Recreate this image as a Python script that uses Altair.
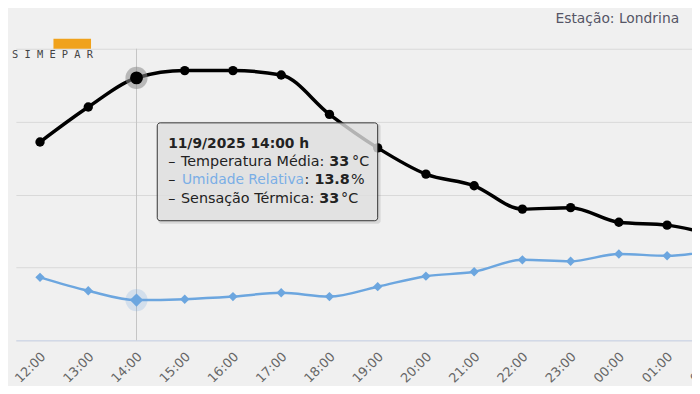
import altair as alt
import pandas as pd

# ---- data ----
horas = ["12:00", "13:00", "14:00", "15:00", "16:00", "17:00", "18:00", "19:00",
         "20:00", "21:00", "22:00", "23:00", "00:00", "01:00", "02:00"]
temperatura = [28.6, 31.0, 33.0, 33.5, 33.5, 33.2, 30.5, 28.2,
               26.4, 25.6, 24.0, 24.1, 23.1, 22.9, 22.2]
umidade = [21.6, 17.0, 13.8, 14.1, 15.0, 16.3, 15.0, 18.4,
           22.0, 23.5, 27.6, 27.1, 29.6, 29.0, 31.0]
sensacao_destaque = 33
indice_destaque = 2
data_destaque = "11/9/2025"
estacao = "Londrina"

temp_ticks = [15, 20, 25, 30, 35]

df = pd.DataFrame({"i": list(range(len(horas))), "hora": horas,
                   "temp": temperatura, "umid": umidade})
df_hl = df[df["i"] == indice_destaque]
one = pd.DataFrame({"k": [0]})

W, H = 684, 295
STEP = 48.8
FONT = "DejaVu Sans"
BLUE = "#6ca6df"

label_expr = "[" + ",".join(f"'{h}'" for h in horas) + "][datum.value]"

x_axis = alt.Axis(values=list(range(len(horas))), labelExpr=label_expr,
                  labelAngle=315, labelAlign="right", labelBaseline="middle",
                  labelPadding=14, labelOffset=3, labelFontSize=13, labelFont=FONT,
                  labelColor="#666666", ticks=False, domainColor="#ccd6eb",
                  domainWidth=1, grid=False, title=None, labelOverlap=False,
                  labelFlush=False, labelBound=False)
x_scale = alt.Scale(domain=[-0.5, len(horas) - 0.5],
                    range=[0, STEP * len(horas)], nice=False, zero=False)
X = alt.X("i:Q", scale=x_scale, axis=x_axis)

t_scale = alt.Scale(domain=[15, 35], nice=False, zero=False)
u_scale = alt.Scale(domain=[0, 100], nice=False, zero=False)
t_axis = alt.Axis(values=temp_ticks, labels=False, ticks=False, domain=False,
                  grid=True, gridColor="#d9d9d9", gridWidth=1, title=None)

base = alt.Chart(df)

crosshair = alt.Chart(df_hl).mark_rule(color="#c4c4c4", strokeWidth=1).encode(
    x=X, y=alt.value(0), y2=alt.value(H))

temp_line = base.mark_line(color="black", strokeWidth=3.5, interpolate="monotone",
                           clip=True).encode(
    x=X, y=alt.Y("temp:Q", scale=t_scale, axis=t_axis))
temp_pts = base.mark_point(filled=True, shape="circle", size=90, color="black",
                           opacity=1, clip=True).encode(
    x=X, y=alt.Y("temp:Q", scale=t_scale, axis=None))

umid_line = base.mark_line(color=BLUE, strokeWidth=2.5, interpolate="monotone",
                           clip=True).encode(
    x=X, y=alt.Y("umid:Q", scale=u_scale, axis=None))
umid_pts = base.mark_point(filled=True, shape="diamond", size=90, color=BLUE,
                           opacity=1, clip=True).encode(
    x=X, y=alt.Y("umid:Q", scale=u_scale, axis=None))

hl = alt.Chart(df_hl)
t_halo = hl.mark_point(filled=True, shape="circle", size=500, color="#8a8a8a",
                       opacity=0.55).encode(
    x=X, y=alt.Y("temp:Q", scale=t_scale, axis=None))
t_hov = hl.mark_point(filled=True, shape="circle", size=170, color="black",
                      opacity=1).encode(
    x=X, y=alt.Y("temp:Q", scale=t_scale, axis=None))
u_halo = hl.mark_point(filled=True, shape="circle", size=500, color=BLUE,
                       opacity=0.22).encode(
    x=X, y=alt.Y("umid:Q", scale=u_scale, axis=None))
u_hov = hl.mark_point(filled=True, shape="diamond", size=180, color=BLUE,
                      opacity=1).encode(
    x=X, y=alt.Y("umid:Q", scale=u_scale, axis=None))

# ---- tooltip box ----
tx0, tx1, ty0, ty1 = 143, 366, 75, 174
shadow = alt.Chart(one).mark_rect(color="black", opacity=0.10, cornerRadius=3).encode(
    x=alt.value(tx0 + 1), x2=alt.value(tx1 + 3), y=alt.value(ty0 + 1), y2=alt.value(ty1 + 3))
box = alt.Chart(one).mark_rect(fill="#e6e6e6", fillOpacity=0.78, stroke="#333333",
                               strokeWidth=1, cornerRadius=3).encode(
    x=alt.value(tx0), x2=alt.value(tx1), y=alt.value(ty0), y2=alt.value(ty1))


def seg(text, x, y, bold=False, color="#222222", size=14.5):
    return alt.Chart(one).mark_text(
        text=text, align="left", baseline="alphabetic", font=FONT, fontSize=size,
        fontWeight="bold" if bold else "normal", color=color).encode(
        x=alt.value(x), y=alt.value(y))


t_val = temperatura[indice_destaque]
u_val = umidade[indice_destaque]
fmt = lambda v: f"{v:g}"

tips = [
    seg(f"{data_destaque} {horas[indice_destaque]} h", 154, 100, bold=True, size=14),
    seg("–", 154, 119),
    seg("Temperatura Média:", 167, 119),
    seg(fmt(t_val), 317, 119, bold=True),
    seg("°C", 340, 119),
    seg("–", 154, 137),
    seg("Umidade Relativa", 168, 137, color="#7aaee6", size=14),
    seg(":", 292, 137),
    seg(fmt(u_val), 302, 137, bold=True),
    seg("%", 339, 137),
    seg("–", 154, 156),
    seg("Sensação Térmica:", 167, 156),
    seg(fmt(sensacao_destaque), 307, 156, bold=True),
    seg("°C", 329, 156),
]

title = alt.Chart(one).mark_text(
    text=f"Estação: {estacao}", align="right", baseline="alphabetic", font=FONT,
    fontSize=14, color="#555566").encode(x=alt.value(671), y=alt.value(-26))

logo_bar = alt.Chart(one).mark_rect(color="#f0a21c").encode(
    x=alt.value(38), x2=alt.value(76), y=alt.value(-10), y2=alt.value(0))
logo_txt = alt.Chart(one).mark_text(
    text="S I M E P A R", align="left", baseline="alphabetic",
    font="DejaVu Sans Mono", fontSize=10.5, color="#444444").encode(
    x=alt.value(-4), y=alt.value(9))

chart = alt.layer(
    crosshair, umid_line, umid_pts, temp_line, temp_pts,
    t_halo, t_hov, u_halo, u_hov,
    shadow, box, *tips, title, logo_bar, logo_txt
).resolve_scale(y="independent").properties(
    width=W, height=H,
    autosize=alt.AutoSizeParams(type="none"),
    padding={"left": 8, "top": 39, "right": 0, "bottom": 44},
).configure(background="#f0f0f0").configure_view(stroke=None)

chart.save("out.html", embed_options={"renderer": "svg", "actions": False})
